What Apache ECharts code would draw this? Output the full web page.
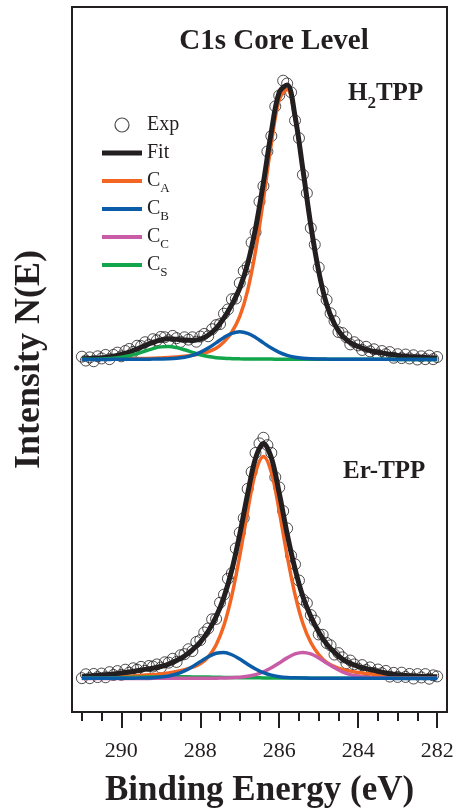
<!DOCTYPE html>
<html>
<head>
<meta charset="UTF-8">
<title>C1s Core Level</title>
<script src="https://cdnjs.cloudflare.com/ajax/libs/echarts/6.0.0/echarts.min.js"></script>
<style>
  html, body { margin: 0; padding: 0; background: #fff; }
  #chart { width: 454px; height: 810px; }
</style>
</head>
<body>
<div id="chart"></div>
<script>
  // binding energies (eV) of the fitted curves and of the measured points
  const energyFit = [291.0, 290.8, 290.6, 290.4, 290.2, 290.0, 289.8, 289.6, 289.4, 289.2,
    289.0, 288.8, 288.6, 288.4, 288.2, 288.0, 287.8, 287.6, 287.4, 287.2,
    287.0, 286.8, 286.6, 286.4, 286.2, 286.0, 285.8, 285.6, 285.4, 285.2,
    285.0, 284.8, 284.6, 284.4, 284.2, 284.0, 283.8, 283.6, 283.4, 283.2,
    283.0, 282.8, 282.6, 282.4, 282.2, 282.0];
  const energyExp = [291.0, 290.9, 290.8, 290.7, 290.6, 290.5, 290.4, 290.3, 290.2, 290.1,
    290.0, 289.9, 289.8, 289.7, 289.6, 289.5, 289.4, 289.3, 289.2, 289.1,
    289.0, 288.9, 288.8, 288.7, 288.6, 288.5, 288.4, 288.3, 288.2, 288.1,
    288.0, 287.9, 287.8, 287.7, 287.6, 287.5, 287.4, 287.3, 287.2, 287.1,
    287.0, 286.9, 286.8, 286.7, 286.6, 286.5, 286.4, 286.3, 286.2, 286.1,
    286.0, 285.9, 285.8, 285.7, 285.6, 285.5, 285.4, 285.3, 285.2, 285.1,
    285.0, 284.9, 284.8, 284.7, 284.6, 284.5, 284.4, 284.3, 284.2, 284.1,
    284.0, 283.9, 283.8, 283.7, 283.6, 283.5, 283.4, 283.3, 283.2, 283.1,
    283.0, 282.9, 282.8, 282.7, 282.6, 282.5, 282.4, 282.3, 282.2, 282.1, 282.0];

  // H2TPP (upper spectrum), intensities above its own baseline
  const h2Exp = [0.8, -0.3, 0.6, -0.5, 0.9, 0.3, 1.3, 0.1, 1.3, 1.95,
    0.9, 2.4, 3.0, 2.15, 3.9, 3.8, 4.9, 4.1, 5.75, 5.45,
    6.4, 6.3, 5.45, 6.7, 6.05, 5.0, 6.3, 5.65, 6.3, 5.05,
    6.5, 7.25, 6.6, 8.6, 9.75, 10.05, 13.0, 14.2, 17.1, 17.3,
    21.7, 25.1, 26.4, 33.2, 36.1, 44.8, 49.2, 59.0, 63.4, 71.8,
    74.9, 79.1, 78.3, 75.8, 67.8, 62.8, 52.4, 47.2, 37.3, 32.6,
    26.1, 19.4, 16.9, 13.1, 10.9, 7.8, 7.5, 6.3, 4.3, 4.9,
    4.0, 2.7, 3.6, 2.3, 2.9, 1.4, 2.4, 1.5, 2.1, 0.5,
    1.5, 0.4, 1.4, 0.3, 1.2, 0.0, 0.9, 0.1, 1.1, 0.1, 0.7];
  const h2Fit = [0.19, 0.26, 0.40, 0.58, 0.90, 1.43, 2.13, 2.99, 3.99, 4.85,
    5.58, 5.86, 5.74, 5.52, 5.40, 5.78, 6.88, 8.84, 11.84, 15.58,
    20.29, 27.20, 37.20, 50.24, 64.64, 75.82, 77.86, 69.04, 53.84, 38.08,
    25.00, 15.66, 10.04, 6.72, 4.80, 3.69, 2.89, 2.28, 1.88, 1.48,
    1.16, 0.91, 0.76, 0.61, 0.51, 0.46];
  const h2CA = [0.1, 0.1, 0.1, 0.1, 0.1, 0.15, 0.2, 0.25, 0.3, 0.35,
    0.45, 0.55, 0.7, 0.9, 1.2, 1.6, 2.2, 3.2, 5.0, 7.8,
    12.2, 19.6, 30.8, 45.4, 61.3, 73.7, 76.6, 68.3, 53.4, 37.8,
    24.8, 15.5, 9.9, 6.6, 4.7, 3.6, 2.8, 2.2, 1.8, 1.4,
    1.1, 0.85, 0.7, 0.55, 0.45, 0.4];
  const h2CB = [0.03, 0.03, 0.03, 0.03, 0.04, 0.04, 0.05, 0.06, 0.09, 0.11,
    0.15, 0.22, 0.37, 0.66, 1.17, 2.02, 3.23, 4.72, 6.26, 7.44,
    7.9, 7.44, 6.26, 4.72, 3.23, 2.02, 1.17, 0.66, 0.37, 0.22,
    0.15, 0.11, 0.09, 0.07, 0.06, 0.05, 0.05, 0.04, 0.04, 0.04,
    0.03, 0.03, 0.03, 0.03, 0.03, 0.03];
  const h2CS = [0.06, 0.08, 0.12, 0.20, 0.36, 0.64, 1.08, 1.68, 2.40, 3.09,
    3.58, 3.69, 3.37, 2.76, 2.03, 1.36, 0.85, 0.52, 0.33, 0.24,
    0.19, 0.16, 0.14, 0.12, 0.11, 0.10, 0.09, 0.08, 0.07, 0.06,
    0.05, 0.05, 0.05, 0.05, 0.04, 0.04, 0.04, 0.04, 0.04, 0.04,
    0.03, 0.03, 0.03, 0.03, 0.03, 0.03];

  // Er-TPP (lower spectrum)
  const erExp = [0.1, 1.2, 0.1, 1.3, 0.4, 1.4, 0.35, 1.8, 1.0, 2.1,
    1.05, 2.5, 1.65, 2.9, 2.5, 3.3, 2.2, 3.55, 3.4, 4.0,
    3.1, 4.6, 4.5, 5.6, 4.7, 6.6, 6.9, 8.3, 7.8, 10.35,
    10.9, 13.05, 14.2, 16.8, 16.9, 21.5, 23.8, 28.3, 29.9, 36.9,
    41.4, 45.5, 53.8, 58.6, 64.0, 66.7, 68.3, 66.2, 64.0, 57.1,
    54.2, 47.5, 42.6, 34.9, 32.4, 27.8, 22.4, 21.4, 18.0, 16.4,
    12.5, 12.4, 10.1, 9.4, 6.8, 7.2, 6.0, 4.35, 5.1, 4.0,
    2.8, 3.8, 2.4, 3.15, 1.6, 2.55, 1.5, 2.15, 0.55, 1.6,
    0.45, 1.65, 0.45, 1.3, 0.0, 1.25, 0.3, 1.25, -0.05, 0.9, 0.6];
  const erFit = [0.5, 0.7, 0.9, 1.05, 1.3, 1.55, 1.85, 2.2, 2.6, 2.9,
    3.4, 4.1, 5.1, 6.4, 8.1, 10.3, 13.4, 17.5, 23.1, 30.8,
    40.9, 52.4, 62.5, 66.7, 62.6, 52.6, 41.1, 31.1, 23.2, 17.6,
    13.2, 9.8, 7.4, 5.5, 4.3, 3.4, 2.8, 2.3, 1.8, 1.35,
    1.05, 0.85, 0.7, 0.6, 0.55, 0.5];
  const erCA = [0.3, 0.35, 0.4, 0.45, 0.5, 0.6, 0.7, 0.8, 1.0, 1.1,
    1.3, 1.6, 2.0, 2.5, 3.2, 4.2, 6.1, 9.5, 15.1, 23.6,
    34.8, 47.5, 58.5, 63.0, 58.5, 47.5, 34.8, 23.8, 15.6, 10.2,
    6.8, 4.6, 3.4, 2.6, 2.1, 1.7, 1.4, 1.2, 1.0, 0.9,
    0.8, 0.7, 0.6, 0.5, 0.5, 0.4];
  const erCB = [0.04, 0.04, 0.05, 0.05, 0.06, 0.07, 0.08, 0.11, 0.16, 0.24,
    0.40, 0.71, 1.27, 2.15, 3.35, 4.79, 6.18, 7.15, 7.37, 6.74,
    5.51, 4.06, 2.71, 1.66, 0.95, 0.53, 0.30, 0.19, 0.13, 0.10,
    0.08, 0.07, 0.06, 0.05, 0.05, 0.04, 0.04, 0.04, 0.04, 0.04,
    0.03, 0.03, 0.03, 0.03, 0.03, 0.03];
  const erCC = [0.02, 0.02, 0.02, 0.02, 0.03, 0.03, 0.03, 0.03, 0.03, 0.04,
    0.04, 0.04, 0.05, 0.05, 0.06, 0.07, 0.08, 0.10, 0.14, 0.21,
    0.35, 0.62, 1.10, 1.89, 3.03, 4.42, 5.86, 6.97, 7.4, 6.97,
    5.86, 4.42, 3.03, 1.89, 1.10, 0.62, 0.35, 0.21, 0.14, 0.10,
    0.08, 0.07, 0.06, 0.05, 0.05, 0.04];
  const erCS = [0.1, 0.12, 0.15, 0.18, 0.2, 0.25, 0.3, 0.35, 0.4, 0.43,
    0.45, 0.48, 0.5, 0.48, 0.45, 0.42, 0.4, 0.35, 0.3, 0.27,
    0.25, 0.22, 0.2, 0.18, 0.16, 0.15, 0.13, 0.12, 0.11, 0.1,
    0.09, 0.08, 0.08, 0.07, 0.07, 0.06, 0.06, 0.05, 0.05, 0.05,
    0.05, 0.04, 0.04, 0.04, 0.04, 0.04];

  // vertical offsets used to stack the two spectra
  const h2Offset = 100;
  const erOffset = 9.5;

  // x axis ticks and labels
  const minorTickValues = [282, 282.5, 283, 283.5, 284, 284.5, 285, 285.5, 286, 286.5,
    287, 287.5, 288, 288.5, 289, 289.5, 290, 290.5, 291];
  const majorTickValues = [282, 284, 286, 288, 290];

  const legendLabels = {
    'Exp': '{m|Exp}',
    'Fit': '{m|Fit}',
    'C_A': '{m|C}{s|A}',
    'C_B': '{m|C}{s|B}',
    'C_C': '{m|C}{s|C}',
    'C_S': '{m|C}{s|S}'
  };

  const INK = '#231f20';
  const SERIF = '"Liberation Serif", "DejaVu Serif", serif';
  const colors = {
    C_A: '#f26522',
    C_B: '#0a5ca8',
    C_C: '#c95ca6',
    C_S: '#12a54b'
  };
  const thinLine = 'path://M0,0H40V4H0Z';
  const thickLine = 'path://M0,0H40V5H0Z';

  const chart = echarts.init(document.getElementById('chart'));

  function toPairs(xs, ys, offset) {
    return xs.map((x, i) => [x, ys[i] + offset]);
  }

  function expSeries(values, offset) {
    return {
      name: 'Exp',
      type: 'scatter',
      data: toPairs(energyExp, values, offset),
      symbol: 'circle',
      symbolSize: 11,
      itemStyle: { color: 'rgba(0,0,0,0)', borderColor: INK, borderWidth: 1 },
      z: 1,
      silent: true
    };
  }

  function lineSeries(name, values, offset, color, width) {
    return {
      name: name,
      type: 'line',
      data: toPairs(energyFit, values, offset),
      symbol: 'none',
      showSymbol: false,
      smooth: 0.35,
      lineStyle: { color: color, width: width },
      itemStyle: { color: color },
      z: 2,
      silent: true
    };
  }

  function lineLegend(name, color, icon) {
    return { name: name, icon: icon, itemStyle: { color: color, borderWidth: 0 } };
  }

  const option = {
    animation: false,
    backgroundColor: '#fff',
    grid: {
      left: 72, right: 7, top: 7, bottom: 98,
      show: true, borderColor: INK, borderWidth: 2,
      outerBoundsMode: 'none'
    },
    xAxis: [
      {
        type: 'value', min: 281.75, max: 291.25, inverse: true, position: 'bottom',
        axisLine: { show: true, onZero: false, lineStyle: { color: INK, width: 2 } },
        axisTick: { show: true, customValues: minorTickValues, length: 9, lineStyle: { color: INK, width: 2 } },
        axisLabel: { show: false },
        splitLine: { show: false },
        name: 'Binding Energy (eV)',
        nameLocation: 'middle',
        nameGap: 61,
        nameMoveOverlap: false,
        nameTextStyle: { color: INK, fontFamily: SERIF, fontWeight: 'bold', fontSize: 35 }
      },
      {
        type: 'value', min: 281.75, max: 291.25, inverse: true, position: 'bottom', offset: 0,
        axisLine: { show: false },
        axisTick: { show: true, customValues: majorTickValues, length: 16, lineStyle: { color: INK, width: 2 } },
        axisLabel: { customValues: majorTickValues, margin: 28, color: INK, fontFamily: SERIF, fontSize: 22 },
        splitLine: { show: false }
      }
    ],
    yAxis: {
      type: 'value', min: 0, max: 200,
      axisLine: { show: false },
      axisTick: { show: false },
      axisLabel: { show: false },
      splitLine: { show: false },
      name: 'Intensity N(E)',
      nameLocation: 'middle',
      nameRotate: 90,
      nameGap: 24,
      nameMoveOverlap: false,
      nameTextStyle: { color: INK, fontFamily: SERIF, fontWeight: 'bold', fontSize: 36 }
    },
    legend: {
      orient: 'vertical',
      left: 102,
      top: 111,
      padding: 0,
      itemWidth: 40,
      itemHeight: 14,
      itemGap: 0,
      selectedMode: false,
      data: [
        { name: 'Exp', icon: 'circle', itemStyle: { color: 'rgba(0,0,0,0)', borderColor: INK, borderWidth: 1.2 } },
        lineLegend('Fit', INK, thickLine),
        lineLegend('C_A', colors.C_A, thinLine),
        lineLegend('C_B', colors.C_B, thinLine),
        lineLegend('C_C', colors.C_C, thinLine),
        lineLegend('C_S', colors.C_S, thinLine)
      ],
      formatter: name => legendLabels[name],
      textStyle: {
        color: INK,
        fontFamily: SERIF,
        fontSize: 20,
        lineHeight: 28,
        rich: {
          m: { fontFamily: SERIF, fontSize: 20, lineHeight: 28, color: INK },
          s: { fontFamily: SERIF, fontSize: 13, lineHeight: 28, verticalAlign: 'bottom', color: INK }
        }
      }
    },
    graphic: [
      {
        type: 'text', x: 274, y: 42,
        style: {
          text: 'C1s Core Level', fill: INK,
          font: 'bold 29px "Liberation Serif"',
          textAlign: 'center', textVerticalAlign: 'middle'
        }
      },
      {
        type: 'text', x: 348, y: 94,
        style: {
          text: '{a|H}{b|2}{a|TPP}', fill: INK,
          textAlign: 'left', textVerticalAlign: 'middle',
          rich: {
            a: { fontFamily: 'Liberation Serif', fontWeight: 'bold', fontSize: 25, lineHeight: 36, fill: INK },
            b: { fontFamily: 'Liberation Serif', fontWeight: 'bold', fontSize: 17, lineHeight: 36, verticalAlign: 'bottom', fill: INK }
          }
        }
      },
      {
        type: 'text', x: 343, y: 472,
        style: {
          text: 'Er-TPP', fill: INK,
          font: 'bold 25px "Liberation Serif"',
          textAlign: 'left', textVerticalAlign: 'middle'
        }
      }
    ],
    series: [
      expSeries(h2Exp, h2Offset),
      expSeries(erExp, erOffset),
      lineSeries('C_A', h2CA, h2Offset, colors.C_A, 3.5),
      lineSeries('C_A', erCA, erOffset, colors.C_A, 3.5),
      lineSeries('Fit', h2Fit, h2Offset, INK, 5),
      lineSeries('Fit', erFit, erOffset, INK, 5),
      lineSeries('C_S', h2CS, h2Offset, colors.C_S, 3.5),
      lineSeries('C_S', erCS, erOffset, colors.C_S, 3.5),
      lineSeries('C_C', erCC, erOffset, colors.C_C, 3.5),
      lineSeries('C_B', h2CB, h2Offset, colors.C_B, 3.5),
      lineSeries('C_B', erCB, erOffset, colors.C_B, 3.5)
    ]
  };

  chart.setOption(option);
  window.addEventListener('resize', () => chart.resize());
</script>
</body>
</html>
